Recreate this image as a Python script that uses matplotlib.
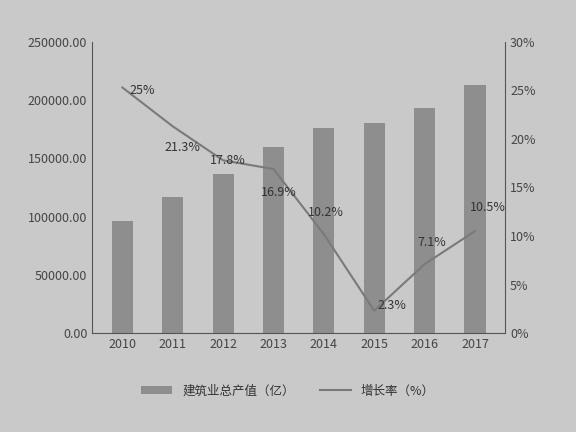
import matplotlib.pyplot as plt
import numpy as np

plt.rcParams['font.family'] = ['Noto Sans CJK SC', 'DejaVu Sans']

years = ['2010', '2011', '2012', '2013', '2014', '2015', '2016', '2017']
output = [96000, 117000, 137000, 160000, 176500, 180000, 193500, 213000]
growth = [25.3, 21.3, 17.8, 16.9, 10.2, 2.3, 7.1, 10.5]
growth_labels = ['25%', '21.3%', '17.8%', '16.9%', '10.2%', '2.3%', '7.1%', '10.5%']
label_offsets = [(0.4, -0.3), (0.2, -2.2), (0.1, 0.0), (0.1, -2.4), (0.05, 2.2), (0.35, 0.5), (0.15, 2.2), (0.25, 2.4)]

bg = '#c9c9c9'
fig = plt.figure(figsize=(5.76, 4.32), dpi=100, facecolor=bg)
ax = fig.add_axes([0.16, 0.229, 0.717, 0.674], facecolor=bg)
x = np.arange(len(years))
ax.bar(x, output, width=0.42, color='#8e8e8e', label='建筑业总产值（亿）')
ax.set_ylim(0, 250000)
ax.set_xlim(-0.6, 7.6)
ax.set_yticks(np.arange(0, 250001, 50000))
ax.set_yticklabels(['%.2f' % v for v in np.arange(0, 250001, 50000)])
ax.set_xticks(x)
ax.set_xticklabels(years)
for s in ['top', 'right']:
    ax.spines[s].set_visible(False)
for s in ['left', 'bottom']:
    ax.spines[s].set_color('#555555')
ax.tick_params(colors='#444444', labelsize=9, length=0)

ax2 = ax.twinx()
ax2.plot(x, growth, color='#7a7a7a', lw=1.5, label='增长率（%）')
ax2.set_ylim(0, 30)
ax2.set_yticks(range(0, 31, 5))
ax2.set_yticklabels(['%d%%' % v for v in range(0, 31, 5)])
for s in ['top', 'left', 'bottom']:
    ax2.spines[s].set_visible(False)
ax2.spines['right'].set_color('#555555')
ax2.tick_params(colors='#444444', labelsize=9, length=0)
for xi, g, t, (dx, dy) in zip(x, growth, growth_labels, label_offsets):
    ax2.text(xi + dx, g + dy, t, ha='center', va='center', fontsize=9, color='#333333')

h1, l1 = ax.get_legend_handles_labels()
h2, l2 = ax2.get_legend_handles_labels()
fig.legend(h1 + h2, l1 + l2, loc='center', bbox_to_anchor=(0.5, 0.095), ncol=2,
           frameon=False, fontsize=9, labelcolor='#333333', handlelength=2.5)

fig.savefig('out.png', dpi=100, facecolor=bg)
